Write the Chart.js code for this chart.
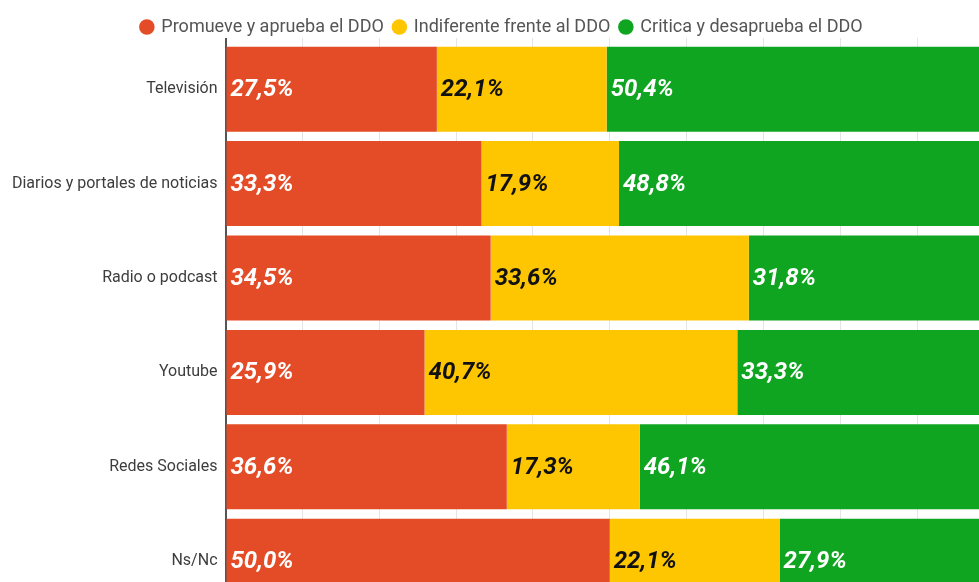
<!DOCTYPE html>
<html lang="es">
<head>
    <meta charset="UTF-8">
    <title>Percepción del DDO según medio</title>
    <script src="https://cdn.jsdelivr.net/npm/chart.js"></script>
    <style>
        body { margin: 0; overflow: hidden; background: #fff; }
        #wrap { width: 1004px; height: 626px; }
    </style>
</head>
<body>
    <div id="wrap"><canvas id="myChart" width="1004" height="626"></canvas></div>

    <script>
        // medios consultados (eje Y)
        const medios = ['Televisión', 'Diarios y portales de noticias', 'Radio o podcast', 'Youtube', 'Redes Sociales', 'Ns/Nc'];

        // porcentajes por postura
        const promueve = [27.5, 33.3, 34.5, 25.9, 36.6, 50.0];
        const indiferente = [22.1, 17.9, 33.6, 40.7, 17.3, 22.1];
        const critica = [50.4, 48.8, 31.8, 33.3, 46.1, 27.9];

        const colores = ['#e34c26', '#fec600', '#10a521'];
        const coloresTexto = ['#ffffff', '#111111', '#ffffff'];

        // escribe el porcentaje al inicio de cada segmento
        const etiquetas = {
            id: 'etiquetas',
            afterDatasetsDraw(chart) {
                const ctx = chart.ctx;
                ctx.save();
                ctx.font = 'italic bold 24px Roboto';
                ctx.textBaseline = 'middle';
                ctx.textAlign = 'left';
                chart.data.datasets.forEach((ds, i) => {
                    const meta = chart.getDatasetMeta(i);
                    ctx.fillStyle = coloresTexto[i];
                    meta.data.forEach((bar, j) => {
                        const txt = ds.data[j].toFixed(1).replace('.', ',') + '%';
                        ctx.fillText(txt, Math.min(bar.base, bar.x) + 4, bar.y + 1);
                    });
                });
                ctx.restore();
            }
        };

        // baja un poco la leyenda sin mover el área del gráfico
        const leyendaAbajo = {
            id: 'leyendaAbajo',
            afterLayout(chart) {
                chart.legend.top += 8;
                chart.legend.bottom += 8;
            }
        };

        const ctx = document.getElementById('myChart').getContext('2d');
        const myChart = new Chart(ctx, {
            type: 'bar',
            data: {
                labels: medios,
                datasets: [{
                    label: 'Promueve y aprueba el DDO',
                    data: promueve,
                    backgroundColor: colores[0]
                }, {
                    label: 'Indiferente frente al DDO',
                    data: indiferente,
                    backgroundColor: colores[1]
                }, {
                    label: 'Critica y desaprueba el DDO',
                    data: critica,
                    backgroundColor: colores[2]
                }]
            },
            options: {
                indexAxis: 'y',
                responsive: false,
                animation: false,
                barPercentage: 0.9,
                categoryPercentage: 1,
                layout: { padding: { left: 10, right: 10, top: 0, bottom: 0 } },
                plugins: {
                    legend: {
                        position: 'top',
                        labels: {
                            usePointStyle: true,
                            pointStyle: 'circle',
                            boxWidth: 11,
                            boxHeight: 11,
                            padding: 10,
                            color: '#555',
                            font: { family: 'Roboto', size: 18 }
                        }
                    },
                    tooltip: { enabled: false }
                },
                scales: {
                    x: {
                        position: 'top',
                        stacked: true,
                        min: 0,
                        max: 100,
                        ticks: { display: false, stepSize: 10 },
                        grid: {
                            // la línea del 0 hace de eje y sobresale por arriba
                            color: c => c.tick && c.tick.value === 0 ? '#555' : '#e4e4e4',
                            lineWidth: c => c.tick && c.tick.value === 0 ? 2 : 1,
                            drawTicks: true,
                            tickLength: 4
                        },
                        border: { display: false }
                    },
                    y: {
                        stacked: true,
                        afterFit(scale) { scale.width = 215.5; },
                        ticks: {
                            color: '#3d3d3d',
                            padding: 8,
                            font: { family: 'Roboto', size: 16 }
                        },
                        grid: { display: false, drawTicks: false },
                        border: { display: true, color: '#555', width: 2 }
                    }
                }
            },
            plugins: [etiquetas, leyendaAbajo]
        });
    </script>
</body>
</html>
